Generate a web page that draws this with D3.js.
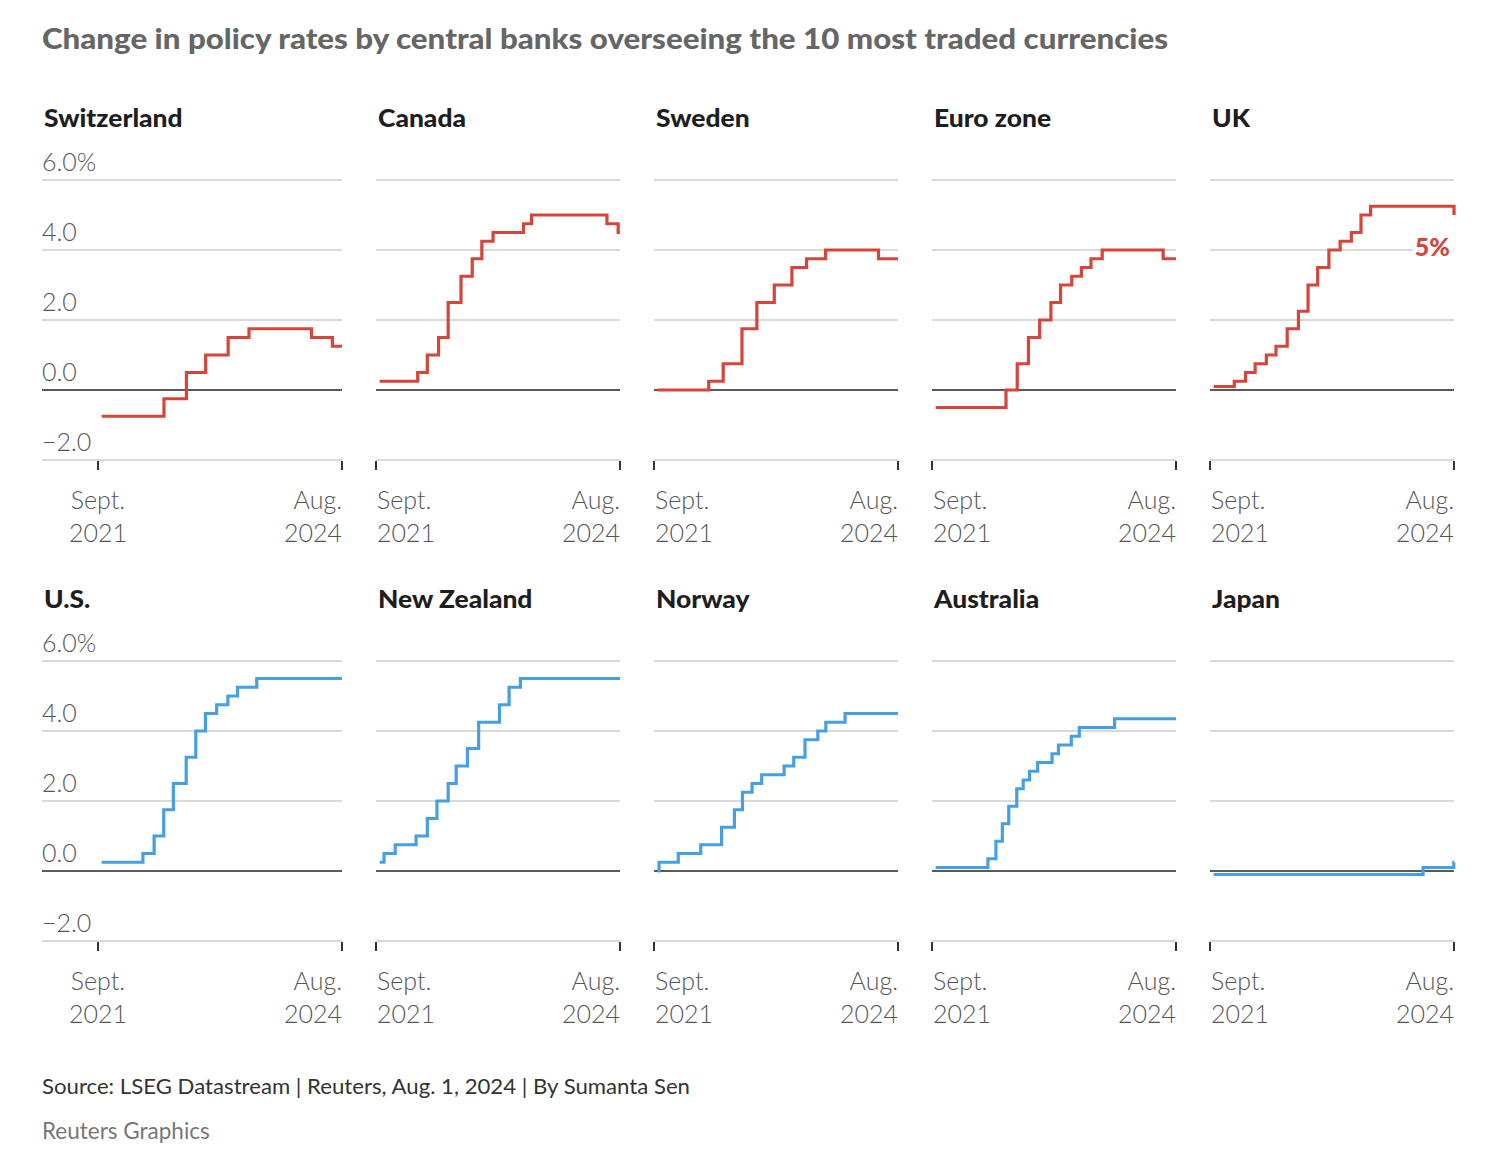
<!DOCTYPE html>
<html><head><meta charset="utf-8">
<script src="https://cdn.jsdelivr.net/npm/d3@7"></script>
<style>
body{margin:0;background:#fff;}
svg{display:block;font-family:"Source Sans Pro","Lato",sans-serif;}
</style></head><body>
<svg id="chart" width="1512" height="1166"></svg>
<script>
// ---------- DATA ----------
const titleText = "Change in policy rates by central banks overseeing the 10 most traded currencies";
const sourceText = "Source: LSEG Datastream | Reuters, Aug. 1, 2024 | By Sumanta Sen";
const creditText = "Reuters Graphics";
const countries = ["Switzerland","Canada","Sweden","Euro zone","UK","U.S.","New Zealand","Norway","Australia","Japan"];
const yTicks = [-2, 0, 2, 4, 6];
const xTicks = ["2021-09-01", "2024-08-01"];
const xTickLabels = [["Sept.", "2021"], ["Aug.", "2024"]];
const xDomainDates = ["2021-09-01", "2024-08-01"];
const ukLabel = "5%";

const switzerland = [["2021-09-17",-0.75],["2022-06-16",-0.25],["2022-09-22",0.5],["2022-12-15",1.0],["2023-03-23",1.5],["2023-06-22",1.75],["2024-03-21",1.5],["2024-06-20",1.25],["2024-08-01",1.25]];
const canada = [["2021-09-17",0.25],["2022-03-02",0.5],["2022-04-13",1.0],["2022-06-01",1.5],["2022-07-13",2.5],["2022-09-07",3.25],["2022-10-26",3.75],["2022-12-07",4.25],["2023-01-25",4.5],["2023-06-07",4.75],["2023-07-12",5.0],["2024-06-05",4.75],["2024-07-24",4.5],["2024-08-01",4.5]];
const sweden = [["2021-09-17",0.0],["2022-04-28",0.25],["2022-06-30",0.75],["2022-09-20",1.75],["2022-11-24",2.5],["2023-02-08",3.0],["2023-04-26",3.5],["2023-06-29",3.75],["2023-09-20",4.0],["2024-05-08",3.75],["2024-08-01",3.75]];
const euroZone = [["2021-09-17",-0.5],["2022-07-21",0.0],["2022-09-08",0.75],["2022-10-27",1.5],["2022-12-15",2.0],["2023-02-02",2.5],["2023-03-16",3.0],["2023-05-04",3.25],["2023-06-15",3.5],["2023-07-27",3.75],["2023-09-14",4.0],["2024-06-06",3.75],["2024-08-01",3.75]];
const uk = [["2021-09-17",0.1],["2021-12-16",0.25],["2022-02-03",0.5],["2022-03-17",0.75],["2022-05-05",1.0],["2022-06-16",1.25],["2022-08-04",1.75],["2022-09-22",2.25],["2022-11-03",3.0],["2022-12-15",3.5],["2023-02-02",4.0],["2023-03-23",4.25],["2023-05-11",4.5],["2023-06-22",5.0],["2023-08-03",5.25],["2024-08-01",5.0]];
const us = [["2021-09-17",0.25],["2022-03-16",0.5],["2022-05-04",1.0],["2022-06-15",1.75],["2022-07-27",2.5],["2022-09-21",3.25],["2022-11-02",4.0],["2022-12-14",4.5],["2023-02-01",4.75],["2023-03-22",5.0],["2023-05-03",5.25],["2023-07-26",5.5],["2024-08-01",5.5]];
const newZealand = [["2021-09-17",0.25],["2021-10-06",0.5],["2021-11-24",0.75],["2022-02-23",1.0],["2022-04-13",1.5],["2022-05-25",2.0],["2022-07-13",2.5],["2022-08-17",3.0],["2022-10-05",3.5],["2022-11-23",4.25],["2023-02-22",4.75],["2023-04-05",5.25],["2023-05-24",5.5],["2024-08-01",5.5]];
const norway = [["2021-09-17",0.0],["2021-09-23",0.25],["2021-12-16",0.5],["2022-03-24",0.75],["2022-06-23",1.25],["2022-08-18",1.75],["2022-09-22",2.25],["2022-11-03",2.5],["2022-12-15",2.75],["2023-03-23",3.0],["2023-05-04",3.25],["2023-06-22",3.75],["2023-08-17",4.0],["2023-09-21",4.25],["2023-12-14",4.5],["2024-08-01",4.5]];
const australia = [["2021-09-17",0.1],["2022-05-03",0.35],["2022-06-07",0.85],["2022-07-05",1.35],["2022-08-02",1.85],["2022-09-06",2.35],["2022-10-04",2.6],["2022-11-01",2.85],["2022-12-06",3.1],["2023-02-07",3.35],["2023-03-07",3.6],["2023-05-02",3.85],["2023-06-06",4.1],["2023-11-07",4.35],["2024-08-01",4.35]];
const japan = [["2021-09-17",-0.1],["2024-03-19",0.1],["2024-07-31",0.25],["2024-08-01",0.25]];

const seriesData = [switzerland, canada, sweden, euroZone, uk, us, newZealand, norway, australia, japan];
const rowColors = ["#d6443a", "#45a0e3"];

// ---------- LAYOUT ----------
const svg = d3.select("#chart");
const parse = d3.utcParse("%Y-%m-%d");
const plotW = 244, colStep = 278, firstX = 98, chartLeft = 42;
const rowTop = [180, 661], plotH = 280;
const fmt = d3.format(".1f");

svg.append("rect").attr("width",1512).attr("height",1166).attr("fill","#fff");

svg.append("text").attr("x",42).attr("y",49)
  .attr("font-size",29).attr("font-weight",900).attr("fill","#666")
  .attr("textLength",1126).attr("lengthAdjust","spacingAndGlyphs")
  .text(titleText);

countries.forEach((name, i) => {
  const row = Math.floor(i / 5), col = i % 5;
  const x0 = firstX + col * colStep;
  const left = col === 0 ? chartLeft : x0;
  const right = x0 + plotW;
  const x = d3.scaleUtc().domain(xDomainDates.map(parse)).range([x0, right]);
  const y = d3.scaleLinear().domain([-2, 6]).range([rowTop[row] + plotH, rowTop[row]]);
  const g = svg.append("g");

  // panel title
  const pt = g.append("text").attr("y", rowTop[row] - 53)
    .attr("font-size",24).attr("font-weight",900).attr("fill","#1e1e1e").text(name);
  pt.attr("transform", `translate(${left + 2},0) scale(1.1,1)`);

  // gridlines
  g.selectAll("line.grid").data(yTicks.filter(d => d !== 0)).join("line")
    .attr("x1", left).attr("x2", right)
    .attr("y1", d => y(d)).attr("y2", d => y(d))
    .attr("stroke","#cccccc").attr("stroke-width",1.5);

  // y labels (first column only)
  if (col === 0) {
    g.selectAll("text.ylab").data(yTicks).join("text")
      .attr("x", chartLeft).attr("y", d => y(d) - 9)
      .attr("font-size",25).attr("font-weight",300).attr("fill","#555")
      .text(d => fmt(d) + (d === 6 ? "%" : ""));
  }

  // x ticks
  const xAxisY = y(-2);
  g.selectAll("line.xt").data(xTicks).join("line")
    .attr("x1", d => x(parse(d))).attr("x2", d => x(parse(d)))
    .attr("y1", xAxisY + 1).attr("y2", xAxisY + 10)
    .attr("stroke","#333").attr("stroke-width",2);

  xTicks.forEach((t, ti) => {
    const tx = x(parse(t));
    xTickLabels[ti].forEach((lab, li) => {
      const txt = g.append("text").attr("y", xAxisY + 49 + li * 33)
        .attr("font-size",25).attr("font-weight",300).attr("fill","#555").text(lab);
      const w = txt.node().getComputedTextLength();
      let lx = tx - w / 2;
      lx = Math.max(left + 1, Math.min(lx, right - w));
      txt.attr("x", lx);
    });
  });

  // zero line
  g.append("line").attr("x1", left).attr("x2", right)
    .attr("y1", y(0)).attr("y2", y(0)).attr("stroke","#222").attr("stroke-width",1.6);

  // step line
  const data = seriesData[i].map(d => ({date: parse(d[0]), v: d[1]}));
  const line = d3.line().x(d => x(d.date)).y(d => y(d.v)).curve(d3.curveStepAfter);
  g.append("path").datum(data).attr("d", line)
    .attr("fill","none").attr("stroke", rowColors[row]).attr("stroke-width",3.2)
    .attr("stroke-linejoin","miter").attr("stroke-linecap","butt");

  if (name === "UK") {
    const last = data[data.length - 1];
    g.append("text").attr("x", x(last.date) - 4).attr("y", y(last.v) + 41)
      .attr("text-anchor","end").attr("font-size",25).attr("font-weight",900)
      .attr("fill", rowColors[0]).attr("stroke","#fff").attr("stroke-width",8)
      .attr("paint-order","stroke").text(ukLabel);
  }
});

svg.append("text").attr("x",42).attr("y",1094).attr("font-size",22).attr("fill","#333")
  .attr("textLength",648).attr("lengthAdjust","spacingAndGlyphs").text(sourceText);
svg.append("text").attr("x",42).attr("y",1139).attr("font-size",22.5).attr("fill","#777")
  .text(creditText);
</script>
</body></html>
